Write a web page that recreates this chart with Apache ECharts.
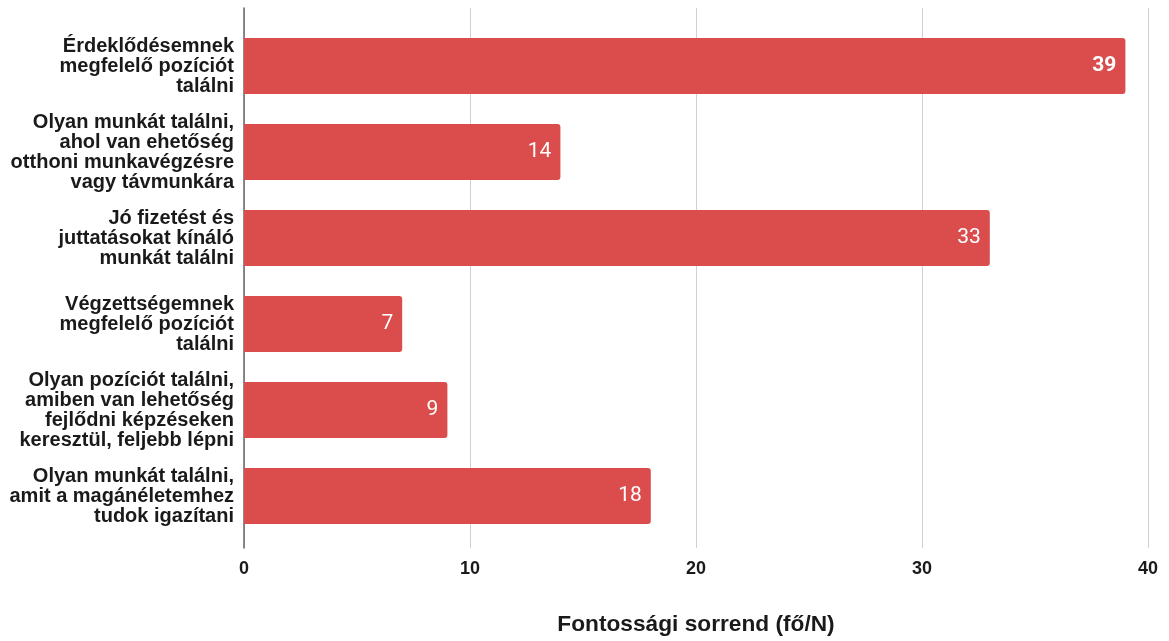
<!DOCTYPE html>
<html>
<head>
<meta charset="utf-8">
<style>
  html, body { margin: 0; padding: 0; background: #ffffff; }
  #chart { width: 1169px; height: 641px; }
</style>
<script src="https://cdn.jsdelivr.net/npm/echarts@6/dist/echarts.min.js"></script>
</head>
<body>
<div id="chart"></div>
<script>
const categories = [
  "Érdeklődésemnek\nmegfelelő pozíciót\ntalálni",
  "Olyan munkát találni,\nahol van ehetőség\notthoni munkavégzésre\nvagy távmunkára",
  "Jó fizetést és\njuttatásokat kínáló\nmunkát találni",
  "Végzettségemnek\nmegfelelő pozíciót\ntalálni",
  "Olyan pozíciót találni,\namiben van lehetőség\nfejlődni képzéseken\nkeresztül, feljebb lépni",
  "Olyan munkát találni,\namit a magánéletemhez\ntudok igazítani"
];
const values = [39, 14, 33, 7, 9, 18];
const xTicks = { min: 0, max: 40, interval: 10 };
const axisTitle = "Fontossági sorrend (fő/N)";

const maxVal = Math.max(...values);
const chart = echarts.init(document.getElementById('chart'), null, { renderer: 'canvas' });
chart.setOption({
  animation: false,
  grid: [
    { left: 244, right: 21, top: 23, bottom: 102 },
    { left: 244, right: 21, top: 8, bottom: 88 }
  ],
  xAxis: [
    {
      gridIndex: 0, type: 'value', min: xTicks.min, max: xTicks.max, interval: xTicks.interval,
      show: false
    },
    {
      gridIndex: 1, type: 'value', min: xTicks.min, max: xTicks.max, interval: xTicks.interval,
      axisLine: { show: false }, axisTick: { show: false },
      splitLine: { show: true, lineStyle: { color: '#d0d0d0', width: 1 } },
      axisLabel: {
        margin: 12, color: '#1a1a1a', fontWeight: 'bold', fontSize: 18,
        fontFamily: 'Liberation Sans, Arial, sans-serif'
      },
      name: axisTitle, nameLocation: 'middle', nameGap: 65,
      nameTextStyle: {
        color: '#1a1a1a', fontWeight: 'bold', fontSize: 22.7,
        fontFamily: 'Liberation Sans, Arial, sans-serif'
      }
    }
  ],
  yAxis: [
    {
      gridIndex: 0, type: 'category', data: categories, inverse: true,
      axisLine: { show: false }, axisTick: { show: false },
      axisLabel: {
        margin: 10, color: '#1a1a1a', fontWeight: 'bold', fontSize: 20, lineHeight: 20,
        fontFamily: 'Liberation Sans, Arial, sans-serif', align: 'right'
      }
    },
    {
      gridIndex: 1, type: 'value', min: 0, max: 1,
      axisLine: { show: true, lineStyle: { color: '#666666', width: 1.5 } },
      axisTick: { show: false }, axisLabel: { show: false }, splitLine: { show: false }
    }
  ],
  series: [
    {
      type: 'bar', xAxisIndex: 0, yAxisIndex: 0,
      barCategoryGap: '35%',
      itemStyle: { color: '#db4c4d', borderRadius: [0, 3, 3, 0] },
      label: {
        show: true, position: 'insideRight', distance: 9, color: '#ffffff',
        fontSize: 21, fontFamily: 'Roboto, sans-serif'
      },
      data: values.map(v => ({
        value: v,
        label: { fontWeight: v === maxVal ? 'bold' : 'normal' }
      }))
    }
  ]
});
</script>
</body>
</html>
